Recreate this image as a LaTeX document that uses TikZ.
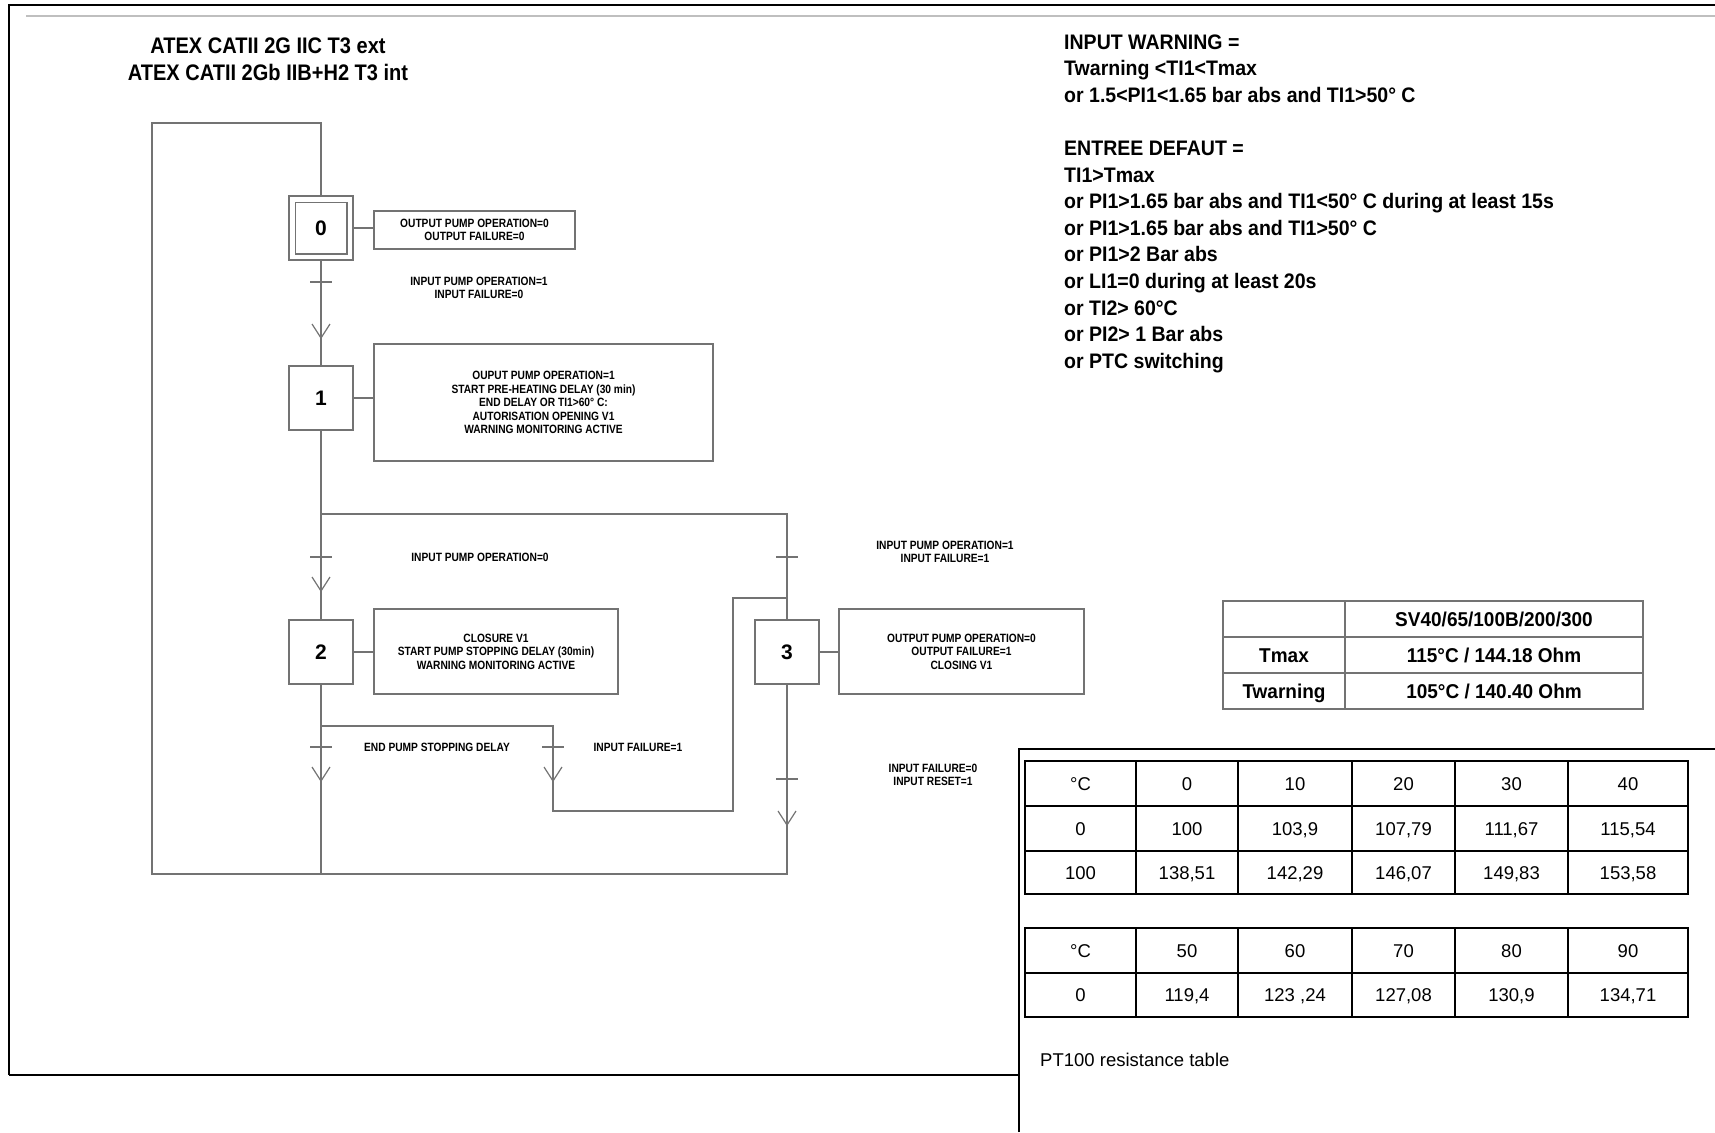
\documentclass[tikz,border=0pt]{standalone}
\usepackage{fontspec}
\setmainfont{Liberation Sans}
\newfontfamily\titlefont[FakeStretch=0.89]{Liberation Sans Bold}
\newfontfamily\notefont[FakeStretch=0.93]{Liberation Sans Bold}
\newfontfamily\grafcetfont[FakeStretch=0.85]{Liberation Sans Bold}
\newfontfamily\limitfont[FakeStretch=0.95]{Liberation Sans Bold}

\begin{document}
\begin{tikzpicture}[x=1pt, y=-1pt,
    flow/.style={draw=black!55, line width=1.5pt},
    frame/.style={draw=black, line width=2.4pt},
    tabline/.style={draw=black, line width=2.8pt},
    stepbox/.style={flow, minimum width=64pt, minimum height=64pt, inner sep=0pt,
        font=\fontsize{21}{24}\selectfont\bfseries},
    actionbox/.style={flow, inner sep=0pt, align=center,
        font=\grafcetfont\fontsize{12}{13.5}\selectfont},
    cond/.style={inner sep=0pt, align=center, font=\grafcetfont\fontsize{12}{13.5}\selectfont},
    titletext/.style={anchor=base, inner sep=0pt, font=\titlefont\fontsize{22.5}{26}\selectfont},
    note/.style={anchor=base west, inner sep=0pt, font=\notefont\fontsize{21}{26}\selectfont},
    cell/.style={inner sep=0pt, text height=13.3pt, text depth=0pt, font=\fontsize{18.5}{22}\selectfont},
    limcell/.style={inner sep=0pt, text height=14.3pt, text depth=0pt,
        font=\limitfont\fontsize{20}{24}\selectfont}]
    \useasboundingbox (0,0) rectangle (1715,1132);

    % sheet frame
    \draw[frame] (9,1075) -- (9,5) -- (1715,5);
    \draw[frame] (9,1075) -- (1019,1075);
    \draw[draw=black!25, line width=1.5pt] (26,16) -- (1715,16);
    \draw[draw=black, line width=2pt] (1019,1132) -- (1019,749) -- (1715,749);

    \node[titletext] (title-1) at (268,54) {ATEX CATII 2G IIC T3 ext};
    \node[titletext] (title-2) at (268,80) {ATEX CATII 2Gb IIB+H2 T3 int};

    % steps and actions
    \node[stepbox] (s0) at (321,228) {0};
    \draw[flow] ([shift={(7,7)}]s0.north west) rectangle ([shift={(-7,-7)}]s0.south east);
    \node[stepbox] (s1) at (321,398) {1};
    \node[stepbox] (s2) at (321,652) {2};
    \node[stepbox] (s3) at (787,652) {3};

    \node[actionbox, minimum width=201pt, minimum height=38pt] (a0) at (474.5,230)
        {OUTPUT PUMP OPERATION=0\\OUTPUT FAILURE=0};
    \node[actionbox, minimum width=339pt, minimum height=117pt] (a1) at (543.5,402.5)
        {OUPUT PUMP OPERATION=1\\START PRE-HEATING DELAY (30 min)\\END DELAY OR TI1>60° C:\\AUTORISATION OPENING V1\\WARNING MONITORING ACTIVE};
    \node[actionbox, minimum width=244pt, minimum height=85pt] (a2) at (496,651.5)
        {CLOSURE V1\\START PUMP STOPPING DELAY (30min)\\WARNING MONITORING ACTIVE};
    \node[actionbox, minimum width=245pt, minimum height=85pt] (a3) at (961.5,651.5)
        {OUTPUT PUMP OPERATION=0\\OUTPUT FAILURE=1\\CLOSING V1};
    \foreach \s/\a in {s0/a0, s1/a1, s2/a2, s3/a3}
        \draw[flow] (\s.east) -- (\s.east -| \a.west);

    % links
    \coordinate (top-left) at (152,123);
    \coordinate (top-main) at (321,123);
    \coordinate (bot-left) at (152,874);
    \coordinate (bot-main) at (321,874);
    \coordinate (bot-right) at (787,874);
    \coordinate (div-a) at (321,514);
    \coordinate (div-b) at (787,514);
    \coordinate (div-c) at (321,726);
    \coordinate (div-d) at (553,726);
    \coordinate (loop-a) at (553,811);
    \coordinate (loop-b) at (733,811);
    \coordinate (loop-c) at (733,598);
    \coordinate (loop-d) at (787,598);

    \draw[flow] (s0) -- (s1);
    \draw[flow] (s1) -- (div-a) -- (s2);
    \draw[flow] (s2) -- (bot-main) -- (bot-left) -- (top-left) -- (top-main) -- (s0);
    \draw[flow] (div-a) -- (div-b) -- (s3);
    \draw[flow] (s3) -- (bot-right) -- (bot-main);
    \draw[flow] (div-c) -- (div-d) -- (loop-a) -- (loop-b) -- (loop-c) -- (loop-d);

    % transitions and arrows
    \foreach \x/\y in {321/282, 321/557, 787/557, 321/747, 553/747, 787/779}
        \draw[flow] (\x-11,\y) -- (\x+11,\y);
    \foreach \x/\y in {321/338, 321/591, 321/781, 553/781, 787/825}
        \draw[flow, line width=1.2pt] (\x-9,\y-14) -- (\x,\y) -- (\x+9,\y-14);

    \node[cond] (t01) at (479,288) {INPUT PUMP OPERATION=1\\INPUT FAILURE=0};
    \node[cond] (t12) at (480,557) {INPUT PUMP OPERATION=0};
    \node[cond] (t13) at (945,552) {INPUT PUMP OPERATION=1\\INPUT FAILURE=1};
    \node[cond] (t20) at (437,747) {END PUMP STOPPING DELAY};
    \node[cond] (t23) at (638,747) {INPUT FAILURE=1};
    \node[cond] (t30) at (933,775) {INPUT FAILURE=0\\INPUT RESET=1};

    % warning and fault conditions
    \foreach \i/\y/\txt in {1/49/{INPUT WARNING =}, 2/75.6/{Twarning <TI1<Tmax},
            3/102.2/{or 1.5<PI1<1.65 bar abs and TI1>50° C}}
        \node[note] (warn-\i) at (1064,\y) {\txt};
    \foreach \i/\y/\txt in {1/155.4/{ENTREE DEFAUT =}, 2/182/{TI1>Tmax},
            3/208.6/{or PI1>1.65 bar abs and TI1<50° C during at least 15s},
            4/235.2/{or PI1>1.65 bar abs and TI1>50° C}, 5/261.8/{or PI1>2 Bar abs},
            6/288.4/{or LI1=0 during at least 20s}, 7/315/{or TI2> 60°C},
            8/341.6/{or PI2> 1 Bar abs}, 9/368.2/{or PTC switching}}
        \node[note] (fault-\i) at (1064,\y) {\txt};

    % limit table
    \draw[flow, line width=1.3pt] (1223,601) rectangle (1643,709);
    \draw[flow, line width=1.3pt] (1345,601) -- (1345,709);
    \draw[flow, line width=1.3pt] (1223,637) -- (1643,637);
    \draw[flow, line width=1.3pt] (1223,673) -- (1643,673);
    \node[limcell] (lim-1) at (1494,619) {SV40/65/100B/200/300};
    \node[limcell] (lim-2) at (1284,655) {Tmax};
    \node[limcell] (lim-3) at (1494,655) {115°C / 144.18 Ohm};
    \node[limcell] (lim-4) at (1284,691) {Twarning};
    \node[limcell] (lim-5) at (1494,691) {105°C / 140.40 Ohm};

    % PT100 tables
    \foreach \ya/\yb/\yc/\yd in {761/806/851/894} {
        \draw[tabline] (1025,\ya) rectangle (1688,\yd);
        \draw[tabline] (1025,\yb) -- (1688,\yb);
        \draw[tabline] (1025,\yc) -- (1688,\yc);
    }
    \draw[tabline] (1025,928) rectangle (1688,1017);
    \draw[tabline] (1025,973) -- (1688,973);
    \foreach \x in {1136,1238,1352,1455,1568} {
        \draw[tabline] (\x,761) -- (\x,894);
        \draw[tabline] (\x,928) -- (\x,1017);
    }
    \foreach \v [count=\c] in {°C,0,10,20,30,40} {
        \pgfmathsetmacro{\cx}{{1080.5,1187,1295,1403.5,1511.5,1628}[\c-1]}
        \node[cell] (pta-1-\c) at (\cx,783.5) {\v};
    }
    \foreach \v [count=\c] in {0,100,{103,9},{107,79},{111,67},{115,54}} {
        \pgfmathsetmacro{\cx}{{1080.5,1187,1295,1403.5,1511.5,1628}[\c-1]}
        \node[cell] (pta-2-\c) at (\cx,828.5) {\v};
    }
    \foreach \v [count=\c] in {100,{138,51},{142,29},{146,07},{149,83},{153,58}} {
        \pgfmathsetmacro{\cx}{{1080.5,1187,1295,1403.5,1511.5,1628}[\c-1]}
        \node[cell] (pta-3-\c) at (\cx,872.5) {\v};
    }
    \foreach \v [count=\c] in {°C,50,60,70,80,90} {
        \pgfmathsetmacro{\cx}{{1080.5,1187,1295,1403.5,1511.5,1628}[\c-1]}
        \node[cell] (ptb-1-\c) at (\cx,950.5) {\v};
    }
    \foreach \v [count=\c] in {0,{119,4},{123 ,24},{127,08},{130,9},{134,71}} {
        \pgfmathsetmacro{\cx}{{1080.5,1187,1295,1403.5,1511.5,1628}[\c-1]}
        \node[cell] (ptb-2-\c) at (\cx,995) {\v};
    }
    \node[cell, anchor=base west] (pt-caption) at (1040,1066) {PT100 resistance table};
\end{tikzpicture}
\end{document}
